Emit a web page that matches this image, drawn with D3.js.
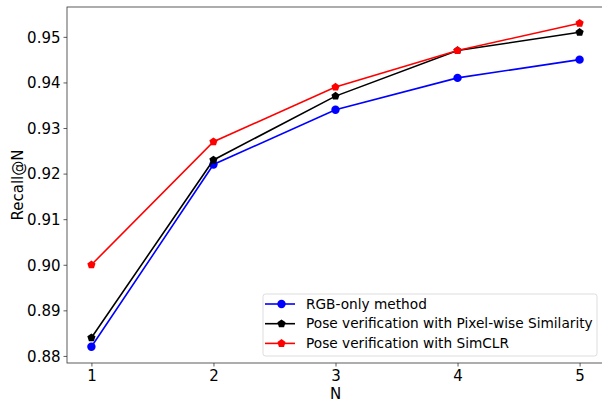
<!DOCTYPE html>
<html>
<head>
<meta charset="utf-8">
<script src="https://cdn.jsdelivr.net/npm/d3@7"></script>
<style>
  body { margin: 0; background: #fff; }
  svg { display: block; font-family: "DejaVu Sans", sans-serif; }
</style>
</head>
<body>
<div id="chart"></div>
<script>
// chart data
const nValues = [1, 2, 3, 4, 5];
const rgbOnly = [0.882, 0.922, 0.934, 0.941, 0.945];
const pixelWise = [0.884, 0.923, 0.937, 0.947, 0.951];
const simclr = [0.900, 0.927, 0.939, 0.947, 0.953];
const yTicks = [0.88, 0.89, 0.90, 0.91, 0.92, 0.93, 0.94, 0.95];
const seriesNames = ["RGB-only method", "Pose verification with Pixel-wise Similarity", "Pose verification with SimCLR"];

const series = [
  {name: seriesNames[0], values: rgbOnly, color: "#0000ff", marker: "circle"},
  {name: seriesNames[1], values: pixelWise, color: "#000000", marker: "pentagon"},
  {name: seriesNames[2], values: simclr, color: "#ff0000", marker: "pentagon"}
];

const W = 602, H = 402;
const margin = {top: 7, right: -2, bottom: 39, left: 67};
const width = W - margin.left - margin.right;
const height = H - margin.top - margin.bottom;

const svg = d3.select("#chart").append("svg")
  .attr("width", W).attr("height", H);
const g = svg.append("g")
  .attr("transform", "translate(" + margin.left + "," + margin.top + ")");

// matplotlib-like 5% margins
const x = d3.scaleLinear().domain([0.8, 5.2]).range([0, width]);
const yMin = 0.882 - 0.071 * 0.05, yMax = 0.953 + 0.071 * 0.05;
const y = d3.scaleLinear().domain([yMin, yMax]).range([height, 0]);

// axes
const xAxis = d3.axisBottom(x).tickValues(nValues).tickFormat(d3.format("d")).tickSizeOuter(0).tickSize(3.5).tickPadding(4);
const yAxis = d3.axisLeft(y).tickValues(yTicks).tickFormat(d3.format(".2f")).tickSizeOuter(0).tickSize(3.5).tickPadding(3);

const gx = g.append("g").attr("class", "x-axis").attr("transform", "translate(0," + height + ")").call(xAxis);
const gy = g.append("g").attr("class", "y-axis").call(yAxis);
[gx, gy].forEach(a => {
  a.selectAll("text").attr("font-size", 15).attr("fill", "#000").attr("font-family", "DejaVu Sans, sans-serif");
  a.selectAll("line").attr("stroke", "#333").attr("stroke-width", 0.8);
  a.select(".domain").remove();
});
gy.selectAll("text").attr("dy", "0.35em");

// frame
g.append("rect")
  .attr("x", 0).attr("y", 0).attr("width", width).attr("height", height)
  .attr("fill", "none").attr("stroke", "#333").attr("stroke-width", 0.8);

// axis labels
g.append("text")
  .attr("x", x(3)).attr("y", height + 36)
  .attr("text-anchor", "middle").attr("font-size", 15).text("N");
g.append("text")
  .attr("transform", "translate(" + (-49) + "," + (height / 2) + ") rotate(-90)")
  .attr("text-anchor", "middle").attr("dy", "0.35em").attr("font-size", 15).text("Recall@N");

// marker shapes
const circleSym = d3.symbol().type(d3.symbolCircle).size(Math.PI * 4.2 * 4.2);
function pentagonPath(r) {
  const pts = d3.range(5).map(i => {
    const a = -Math.PI / 2 + i * 2 * Math.PI / 5;
    return [r * Math.cos(a), r * Math.sin(a)];
  });
  return "M" + pts.map(p => p.join(",")).join("L") + "Z";
}
function markerPath(type) {
  return type === "circle" ? circleSym() : pentagonPath(4.3);
}

const line = d3.line().x((d, i) => x(nValues[i])).y(d => y(d));

series.forEach(s => {
  g.append("path")
    .datum(s.values)
    .attr("fill", "none")
    .attr("stroke", s.color)
    .attr("stroke-width", 1.6)
    .attr("d", line);
  g.selectAll(null)
    .data(s.values)
    .enter().append("path")
    .attr("transform", (d, i) => "translate(" + x(nValues[i]) + "," + y(d) + ")")
    .attr("d", markerPath(s.marker))
    .attr("fill", s.color);
});

// legend
const legend = svg.append("g").attr("transform", "translate(263,294)");
legend.append("rect")
  .attr("width", 334).attr("height", 62).attr("rx", 2.5)
  .attr("fill", "#fff").attr("fill-opacity", 0.8)
  .attr("stroke", "#ddd").attr("stroke-width", 1);
series.forEach((s, i) => {
  const row = legend.append("g").attr("transform", "translate(0," + (10 + i * 19.7) + ")");
  row.append("line").attr("x1", 2).attr("x2", 32).attr("y1", 0).attr("y2", 0)
    .attr("stroke", s.color).attr("stroke-width", 1.6);
  row.append("path").attr("transform", "translate(18.5,0)")
    .attr("d", markerPath(s.marker)).attr("fill", s.color);
  row.append("text").attr("x", 43).attr("y", 0).attr("dy", "0.35em")
    .attr("font-size", 13.7).text(s.name);
});
</script>
</body>
</html>
